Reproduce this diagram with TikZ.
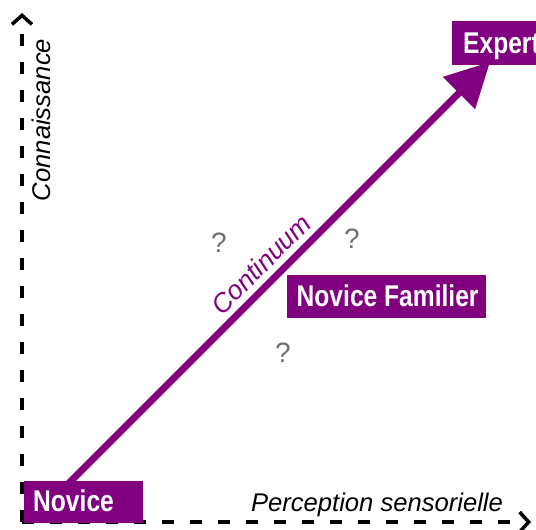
\documentclass[tikz,border=0pt]{standalone}
\usepackage{fontspec}
\setmainfont{Liberation Sans}
\newfontfamily\boxfont[FakeStretch=0.82]{Liberation Sans}
\usetikzlibrary{arrows.meta}
\definecolor{vio}{HTML}{800080}
\definecolor{qgray}{HTML}{707070}
\tikzset{
  axis/.style={line width=3.5pt, dash pattern=on 12pt off 16pt, -{Straight Barb[length=9pt,width=20pt,line width=3.5pt]}},
  pbox/.style={fill=vio, draw=none, inner sep=0pt, outer sep=0pt},
  boxtext/.style={text=white, inner sep=0pt, font=\boxfont\bfseries\fontsize{30pt}{30pt}\selectfont, anchor=base west},
  axlabel/.style={inner sep=0pt, font=\itshape\fontsize{25.6pt}{25.6pt}\selectfont},
  qmark/.style={text=qgray, inner sep=0pt, font=\fontsize{28pt}{28pt}\selectfont},
}
\begin{document}
\begin{tikzpicture}[x=1pt,y=-1pt]
\useasboundingbox (0,0) rectangle (536,530);
\clip (0,0) rectangle (536,530);
% axes
\coordinate (o) at (22,522);
\coordinate (ytop) at (22,13);
\coordinate (xend) at (531,522);
\draw[axis] (o) -- (ytop);
\draw[axis] (o) -- (xend);
% axis labels
\node[axlabel, rotate=90, anchor=base] (con) at (50,120) {Connaissance};
\node[axlabel, anchor=base] (per) at (377,511) {Perception sensorielle};
% main arrow
\coordinate (s) at (62,490);
\coordinate (t) at (490,62);
\draw[vio, line width=7pt, -{Triangle[length=44pt,width=44pt]}] (s) -- (t);
\node[text=vio, inner sep=0pt, rotate=45, font=\itshape\fontsize{26.5pt}{26.5pt}\selectfont] (cont) at (261,264) {Continuum};
% question marks
\node[qmark] (q1) at (219,243) {?};
\node[qmark] (q2) at (352,239) {?};
\node[qmark] (q3) at (283,353) {?};
% boxes
\node[pbox, minimum width=119pt, minimum height=42pt] (nb) at (83.5,502) {};
\node[boxtext] (nt) at (33,511.5) {Novice};
\node[pbox, minimum width=199pt, minimum height=43pt] (fb) at (386.5,296.8) {};
\node[boxtext] (ft) at (296.5,306.7) {Novice Familier};
\node[pbox, minimum width=95pt, minimum height=44.5pt] (eb) at (499,43) {};
\node[boxtext] (et) at (463,53.5) {Expert};
\end{tikzpicture}
\end{document}
